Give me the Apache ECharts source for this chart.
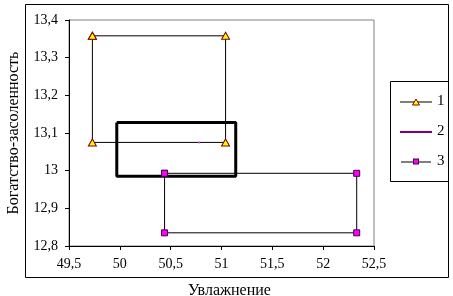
<!DOCTYPE html>
<html><head><meta charset="utf-8">
<script src="https://cdn.jsdelivr.net/npm/echarts@6/dist/echarts.min.js"></script>
<style>html,body{margin:0;padding:0;background:#fff}#c{width:453px;height:296px}</style>
</head><body><div id="c"></div>
<script>
const xTitle = 'Увлажнение';
const yTitle = 'Богатство-засоленность';
const seriesNames = ['1', '2', '3'];
const s1x = [49.73, 51.04, 51.04, 49.73, 49.73];
const s1y = [13.358, 13.358, 13.075, 13.075, 13.358];
const s2x = [50.78];
const s2y = [13.075];
const s3x = [50.44, 52.33, 52.33, 50.44, 50.44];
const s3y = [12.993, 12.993, 12.835, 12.835, 12.993];
const boxX = [49.97, 51.14, 51.14, 49.97, 49.97];
const boxY = [13.128, 13.128, 12.985, 12.985, 13.128];
const xMin = 49.5, xMax = 52.5, xStep = 0.5;
const yMin = 12.8, yMax = 13.4, yStep = 0.1;

const zip = (a, b) => a.map((v, i) => [v, b[i]]);
const fmt = v => String(+v.toFixed(2)).replace('.', ',');
const font = "'Times New Roman', 'Liberation Serif', serif";

const svg = body => 'image://data:image/svg+xml;charset=utf-8,' + encodeURIComponent(
  '<svg xmlns="http://www.w3.org/2000/svg" width="32" height="14" viewBox="0 0 32 14">' + body + '</svg>');
const icon1 = svg('<line x1="0" y1="7.5" x2="32" y2="7.5" stroke="#000" stroke-width="1"/><polygon points="12.5,10.5 19.5,10.5 16,4.5" fill="#ffff00" stroke="#800000" stroke-width="1"/>');
const icon2 = svg('<line x1="0" y1="7.5" x2="32" y2="7.5" stroke="#800080" stroke-width="2"/>');
const icon3 = svg('<line x1="1" y1="7.5" x2="31" y2="7.5" stroke="#000" stroke-width="1"/><rect x="13.5" y="4.5" width="5" height="5" fill="#ff00ff" stroke="#400040" stroke-width="1"/>');

const chart = echarts.init(document.getElementById('c'), null, {renderer: 'canvas'});
chart.setOption({
  animation: false,
  textStyle: {fontFamily: font},
  grid: {left: 69, top: 20, right: 79, bottom: 50, show: true, borderColor: '#808080', borderWidth: 1,
         containLabel: false, outerBoundsMode: 'none'},
  graphic: [
    {type: 'rect', shape: {x: 25.5, y: 4.5, width: 423, height: 273}, style: {fill: 'none', stroke: '#000', lineWidth: 1}, z: 0},
    {type: 'rect', shape: {x: 390.5, y: 81.5, width: 58, height: 100}, style: {fill: '#fff', stroke: '#000', lineWidth: 1}, z: 1}
  ],
  legend: {
    orient: 'vertical', left: 400, top: 94, itemWidth: 32, itemHeight: 14, itemGap: 15, padding: 0,
    textStyle: {fontFamily: font, fontSize: 15, color: '#000'},
    data: [{name: seriesNames[0], icon: icon1}, {name: seriesNames[1], icon: icon2}, {name: seriesNames[2], icon: icon3}],
    z: 5
  },
  xAxis: {
    type: 'value', min: xMin, max: xMax, interval: xStep,
    name: xTitle, nameLocation: 'middle', nameGap: 37,
    nameTextStyle: {fontFamily: font, fontSize: 16, color: '#000', padding: [0, 0, 0, 16]},
    axisLine: {lineStyle: {color: '#000', width: 1}},
    axisTick: {show: true, length: 4, inside: false, lineStyle: {color: '#000'}},
    axisLabel: {formatter: fmt, fontFamily: font, fontSize: 14, color: '#000', margin: 11},
    splitLine: {show: false}
  },
  yAxis: {
    type: 'value', min: yMin, max: yMax, interval: yStep,
    name: yTitle, nameLocation: 'middle', nameGap: 47, nameRotate: 90,
    nameTextStyle: {fontFamily: font, fontSize: 16, color: '#000'},
    axisLine: {show: true, lineStyle: {color: '#000', width: 1}},
    axisTick: {show: true, length: 4, inside: false, lineStyle: {color: '#000'}},
    axisLabel: {formatter: fmt, fontFamily: font, fontSize: 14, color: '#000', margin: 11},
    splitLine: {show: false}
  },
  series: [
    {name: 'box', type: 'line', data: zip(boxX, boxY), symbol: 'none', silent: true,
     lineStyle: {color: '#000', width: 3}, itemStyle: {color: '#000'}, z: 2},
    {name: seriesNames[0], type: 'line', data: zip(s1x, s1y), symbol: 'triangle', symbolSize: [8, 7],
     lineStyle: {color: '#000', width: 1}, itemStyle: {color: '#ffff00', borderColor: '#800000', borderWidth: 1}, z: 3},
    {name: seriesNames[1], type: 'line', data: zip(s2x, s2y), symbol: 'circle', symbolSize: 2,
     lineStyle: {color: '#800080', width: 2}, itemStyle: {color: '#cc33cc', borderWidth: 0}, z: 3},
    {name: seriesNames[2], type: 'line', data: zip(s3x, s3y), symbol: 'rect', symbolSize: 6,
     lineStyle: {color: '#000', width: 1}, itemStyle: {color: '#ff00ff', borderColor: '#400040', borderWidth: 1}, z: 3}
  ]
});
</script></body></html>
